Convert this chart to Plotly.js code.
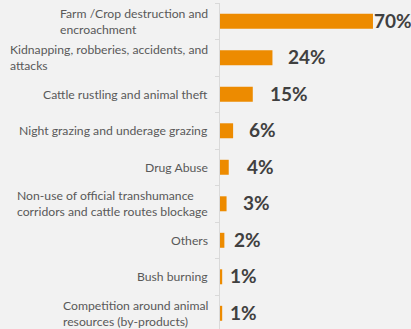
<!DOCTYPE html>
<html>
<head>
<meta charset="utf-8">
<script src="https://cdn.plot.ly/plotly-3.0.1.min.js"></script>
<style>html,body{margin:0;padding:0;background:#f2f2f2;}#chart{width:411px;height:329px;}</style>
</head>
<body>
<div id="chart"></div>
<script>
// ---- data ----
const categories = [
  "Farm /Crop destruction and<br>encroachment",
  "Kidnapping, robberies, accidents, and<br>attacks",
  "Cattle rustling and animal theft",
  "Night grazing and underage grazing",
  "Drug Abuse",
  "Non-use of official transhumance<br>corridors and cattle routes blockage",
  "Others",
  "Bush burning",
  "Competition around animal<br>resources (by-products)"
];
const values = [70, 24, 15, 6, 4, 3, 2, 1, 1];
const valueLabels = ["70%", "24%", "15%", "6%", "4%", "3%", "2%", "1%", "1%"];

// ---- styles ----
const labelShift = [-1, 14, 15, 14, 16, 14, 8, 6, 6];
const barColor = "#ED8B00";
const bg = "#f2f2f2";

const ids = categories.map((c, i) => i);

const trace = {
  type: "bar",
  orientation: "h",
  x: values,
  y: ids,
  width: 0.41,
  marker: {color: barColor, line: {width: 0}},
  hoverinfo: "skip",
  showlegend: false
};

const annotations = [];
categories.forEach((c, i) => {
  annotations.push({
    xref: "paper", yref: "y",
    x: 0, y: ids[i],
    xanchor: "right", yanchor: "middle",
    xshift: -10,
    align: "left",
    text: c,
    showarrow: false,
    font: {family: "Lato, 'Open Sans', sans-serif", size: 12.2, color: "#595959"}
  });
  annotations.push({
    xref: "x", yref: "y",
    x: values[i], y: ids[i],
    xanchor: "left", yanchor: "middle",
    xshift: labelShift[i],
    yshift: 1,
    text: valueLabels[i],
    showarrow: false,
    font: {family: "Lato, 'Open Sans', sans-serif", size: 19, color: "#404040", weight: "bold"}
  });
});

const layout = {
  width: 411, height: 329,
  margin: {l: 220, r: 0, t: 3, b: 0, pad: 0},
  paper_bgcolor: bg,
  plot_bgcolor: bg,
  xaxis: {
    range: [0, 87.4],
    visible: false,
    fixedrange: true
  },
  yaxis: {
    type: "linear",
    range: [8.43, -0.5],
    tickmode: "array",
    tickvals: [-0.5, 0.5, 1.5, 2.5, 3.5, 4.5, 5.5, 6.5, 7.5, 8.5],
    ticktext: ["", "", "", "", "", "", "", "", "", ""],
    ticks: "outside",
    ticklen: 4,
    tickwidth: 1,
    tickcolor: "#d9d9d9",
    showline: true,
    linecolor: "#d9d9d9",
    linewidth: 1.5,
    showgrid: false,
    zeroline: false,
    fixedrange: true
  },
  annotations: annotations
};

Plotly.newPlot("chart", [trace], layout, {displayModeBar: false, staticPlot: true});
</script>
</body>
</html>
